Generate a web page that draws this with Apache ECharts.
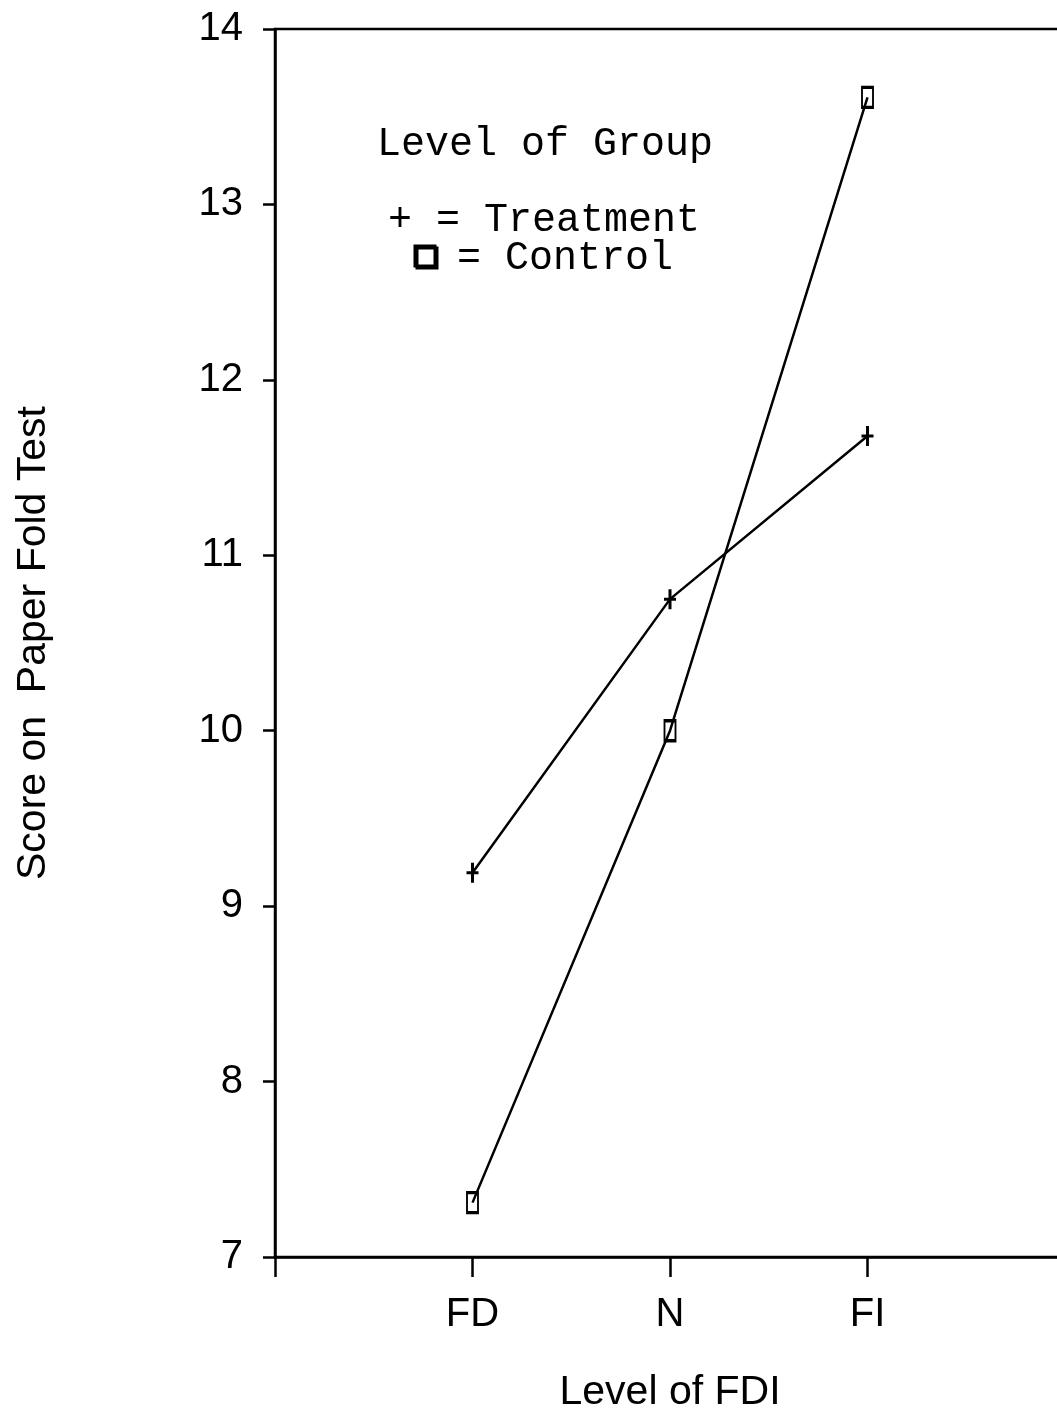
<!DOCTYPE html>
<html>
<head>
<meta charset="utf-8">
<script src="https://cdn.jsdelivr.net/npm/echarts@6/dist/echarts.min.js"></script>
<style>
html,body{margin:0;padding:0;background:#fff;}
#chart{width:1057px;height:1411px;}
</style>
</head>
<body>
<div id="chart"></div>
<script>
var categories = ['FD', 'N', 'FI'];
var categoryPositions = [1, 2, 3];
var treatmentValues = [9.19, 10.75, 11.68];
var controlValues = [7.31, 10.0, 13.61];
var yTicks = [7, 8, 9, 10, 11, 12, 13, 14];
var legendTitle = 'Level of Group';
var treatmentLabel = '+ = Treatment';
var controlLabel = '= Control';

function pairs(vals) {
  return vals.map(function (v, i) { return [categoryPositions[i], v]; });
}

var chart = echarts.init(document.getElementById('chart'), null, {renderer: 'canvas'});
var sans = "'Liberation Sans', Arial, Helvetica, sans-serif";
var mono = "'Courier New', 'Liberation Mono', monospace";

var plusPath = 'path://M0,8.5L12,8.5L12,11.5L0,11.5Z M4.5,0L7.5,0L7.5,20L4.5,20Z';

chart.setOption({
  backgroundColor: '#fff',
  animation: false,
  grid: {left: 275, top: 29, width: 790, height: 1228, show: true, borderColor: '#000', borderWidth: 2.5, containLabel: false, outerBoundsMode: 'none'},
  xAxis: {
    type: 'value', min: 0, max: 4, interval: 1,
    name: 'Level of FDI', nameLocation: 'middle', nameGap: 115,
    nameTextStyle: {fontFamily: sans, fontSize: 41, color: '#000'},
    axisLine: {show: true, lineStyle: {color: '#000', width: 2.5}},
    axisTick: {show: true, inside: false, length: 20, lineStyle: {color: '#000', width: 2.5}},
    axisLabel: {
      margin: 38, fontFamily: sans, fontSize: 40, color: '#000',
      formatter: function (v) { var i = categoryPositions.indexOf(v); return i >= 0 ? categories[i] : ''; }
    },
    splitLine: {show: false}
  },
  yAxis: {
    type: 'value', min: yTicks[0], max: yTicks[yTicks.length - 1], interval: 1,
    name: 'Score on  Paper Fold Test', nameLocation: 'middle', nameGap: 221,
    nameTextStyle: {fontFamily: sans, fontSize: 41, color: '#000'},
    axisLine: {show: true, lineStyle: {color: '#000', width: 2.5}},
    axisTick: {show: true, inside: false, length: 12, lineStyle: {color: '#000', width: 2.5}},
    axisLabel: {margin: 32, fontFamily: sans, fontSize: 40, color: '#000'},
    splitLine: {show: false}
  },
  series: [
    {
      name: 'Treatment', type: 'line', data: pairs(treatmentValues),
      symbol: plusPath, symbolSize: [12, 20], showAllSymbol: true,
      lineStyle: {color: '#000', width: 2.5},
      itemStyle: {color: '#000', borderWidth: 0}
    },
    {
      name: 'Control', type: 'line', data: pairs(controlValues),
      symbol: 'rect', symbolSize: [11, 20], showAllSymbol: true,
      lineStyle: {color: '#000', width: 2.5},
      itemStyle: {color: 'rgba(255,255,255,0)', borderColor: '#000', borderWidth: 2.5}
    }
  ],
  graphic: [
    {type: 'text', left: 377, top: 124, style: {text: legendTitle, font: '40px ' + mono, fill: '#000'}},
    {type: 'text', left: 388, top: 200, style: {text: treatmentLabel, font: '40px ' + mono, fill: '#000'}},
    {type: 'rect', shape: {x: 415, y: 246, width: 20, height: 20}, style: {fill: '#fff', stroke: '#000', lineWidth: 3, shadowColor: '#000', shadowOffsetX: 2, shadowOffsetY: 2}},
    {type: 'text', left: 457, top: 238, style: {text: controlLabel, font: '40px ' + mono, fill: '#000'}}
  ]
});
</script>
</body>
</html>
